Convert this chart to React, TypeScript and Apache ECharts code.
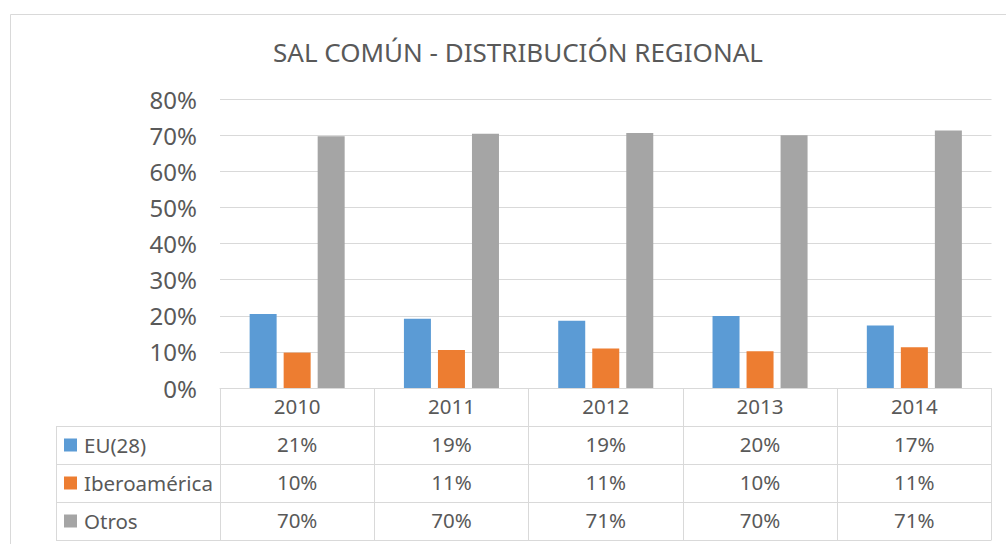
import React, { useEffect, useRef } from "react";
import * as echarts from "echarts";

const years = ["2010", "2011", "2012", "2013", "2014"];
const seriesNames = ["EU(28)", "Iberoamérica", "Otros"];
const euValues = [20.5, 19.2, 18.6, 19.9, 17.3];
const iberoValues = [9.8, 10.5, 10.9, 10.2, 11.3];
const otrosValues = [69.7, 70.4, 70.6, 70.0, 71.3];
const seriesColors = ["#5B9BD5", "#ED7D31", "#A5A5A5"];
const yMin = 0;
const yMax = 80;
const yInterval = 10;
const titleText = "SAL COMÚN - DISTRIBUCIÓN REGIONAL";

const FONT = "'Noto Sans', sans-serif";
const TEXT = "#595959";
const LINE = "#d9d9d9";

export default function App() {
  const ref = useRef<HTMLDivElement>(null);

  useEffect(() => {
    if (!ref.current) return;
    const chart = echarts.init(ref.current, undefined, { renderer: "svg" });
    const W = 1006;
    const H = 544;
    const gridLeft = 220;
    const gridRight = 991.5;
    const gridTop = 99;
    const axisY = 388;
    const rowH = 38;
    const tableLeft = 56;
    const pct = (v: number) => `${Math.round(v)}%`;
    const allValues = [euValues, iberoValues, otrosValues];

    const tableLines: any[] = [];
    for (let r = 1; r <= 4; r++) {
      const y = axisY + r * rowH + 0.5;
      tableLines.push({
        type: "line",
        shape: { x1: tableLeft, y1: y, x2: gridRight, y2: y },
        style: { stroke: LINE, lineWidth: 1 },
        silent: true,
      });
    }
    tableLines.push({
      type: "line",
      shape: { x1: tableLeft + 0.5, y1: axisY + rowH, x2: tableLeft + 0.5, y2: axisY + 4 * rowH + 0.5 },
      style: { stroke: LINE, lineWidth: 1 },
      silent: true,
    });

    chart.setOption({
      animation: false,
      textStyle: { fontFamily: FONT },
      title: {
        text: titleText,
        left: 268,
        top: 34,
        textStyle: { fontSize: 26, fontWeight: "normal", color: TEXT, fontFamily: FONT },
      },
      grid: {
        left: gridLeft,
        right: W - gridRight,
        top: gridTop,
        bottom: H - axisY,
        containLabel: false,
      },
      legend: {
        orient: "vertical",
        left: 64,
        top: axisY + rowH,
        padding: 0,
        itemGap: 0,
        itemWidth: 13,
        itemHeight: 13,
        icon: "rect",
        data: seriesNames,
        textStyle: { fontSize: 20.5, color: TEXT, lineHeight: rowH, fontFamily: FONT, padding: [0, 0, 0, 2] },
      },
      xAxis: {
        type: "category",
        data: years,
        boundaryGap: true,
        axisLine: { show: true, lineStyle: { color: LINE, width: 1 } },
        axisTick: { show: true, interval: 0, length: rowH * 4, lineStyle: { color: LINE, width: 1 } },
        axisLabel: {
          interval: 0,
          margin: -1,
          color: TEXT,
          fontSize: 20.5,
          lineHeight: rowH,
          fontFamily: FONT,
          formatter: (value: string, idx: number) =>
            [value, ...allValues.map((arr) => pct(arr[idx]))].join("\n"),
        },
        splitLine: { show: false },
      },
      yAxis: {
        type: "value",
        min: yMin,
        max: yMax,
        interval: yInterval,
        axisLine: { show: false },
        axisTick: { show: false },
        axisLabel: {
          formatter: "{value}%",
          color: TEXT,
          fontSize: 24,
          margin: 23,
          fontFamily: FONT,
        },
        splitLine: { show: true, lineStyle: { color: LINE, width: 1 } },
      },
      series: [
        { name: seriesNames[0], type: "bar", data: euValues, barWidth: 27, barGap: "26%", itemStyle: { color: seriesColors[0] } },
        { name: seriesNames[1], type: "bar", data: iberoValues, barWidth: 27, barGap: "26%", itemStyle: { color: seriesColors[1] } },
        { name: seriesNames[2], type: "bar", data: otrosValues, barWidth: 27, barGap: "26%", itemStyle: { color: seriesColors[2] } },
      ],
      graphic: [
        {
          type: "rect",
          shape: { x: 10.5, y: 14.5, width: 1200, height: 700 },
          style: { fill: "none", stroke: LINE, lineWidth: 1 },
          silent: true,
          z: -10,
        },
        ...tableLines,
      ],
    });
    return () => chart.dispose();
  }, []);

  return (
    <div
      ref={ref}
      style={{ position: "fixed", left: 0, top: 0, width: 1006, height: 544, background: "#fff" }}
    />
  );
}
